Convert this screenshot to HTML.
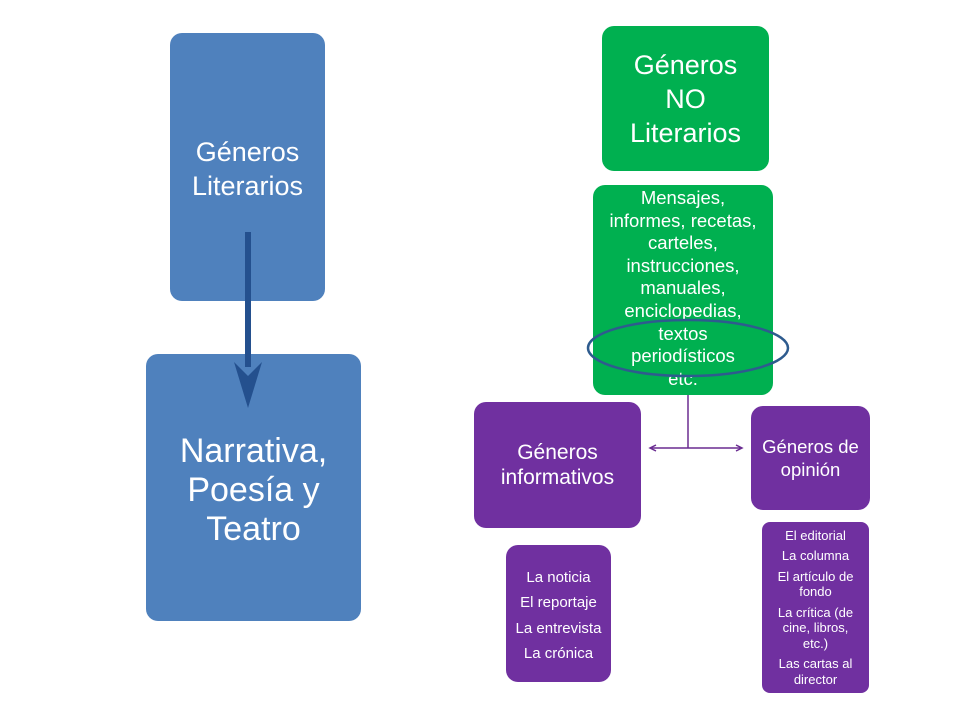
<!DOCTYPE html>
<html><head><meta charset="utf-8"><style>
body{margin:0;width:960px;height:720px;background:#fff;position:relative;overflow:hidden;font-family:"Liberation Sans",sans-serif;color:#fff}
.b{position:absolute;display:flex;flex-direction:column;align-items:center;justify-content:center;text-align:center;border-radius:12px}
.bl{background:#4f81bd}.gr{background:#00b050}.pu{background:#7030a0}
p{margin:0}
</style></head><body>
<div class="b bl" style="left:170px;top:33px;width:155px;height:268px;font-size:27px;line-height:34px;padding-top:4px;box-sizing:border-box">Géneros<br>Literarios</div>
<div class="b bl" style="left:146px;top:354px;width:215px;height:267px;font-size:34px;line-height:39px;padding-top:6px;box-sizing:border-box">Narrativa,<br>Poesía y<br>Teatro</div>
<div class="b gr" style="left:602px;top:26px;width:167px;height:145px;font-size:27px;line-height:34px">Géneros<br>NO<br>Literarios</div>
<div class="b gr" style="left:593px;top:185px;width:180px;height:210px;font-size:18.5px;line-height:22.6px;justify-content:flex-start;padding-top:2px;box-sizing:border-box;white-space:nowrap">Mensajes,<br>informes, recetas,<br>carteles,<br>instrucciones,<br>manuales,<br>enciclopedias,<br>textos<br>periodísticos<br>etc.</div>
<div class="b pu" style="left:474px;top:402px;width:167px;height:126px;font-size:21px;line-height:25px">Géneros<br>informativos</div>
<div class="b pu" style="left:751px;top:406px;width:119px;height:104px;font-size:18.5px;line-height:23px;white-space:nowrap">Géneros de<br>opinión</div>
<div class="b pu" style="left:506px;top:545px;width:105px;height:137px;font-size:15px;line-height:18px;gap:7.5px;padding-top:5px;box-sizing:border-box;white-space:nowrap">
<p>La noticia</p><p>El reportaje</p><p>La entrevista</p><p>La crónica</p></div>
<div class="b pu" style="left:762px;top:522px;width:107px;height:171px;font-size:13px;line-height:15.5px;gap:5px;border-radius:8px;white-space:nowrap">
<p>El editorial</p><p>La columna</p><p>El artículo de<br>fondo</p><p>La crítica (de<br>cine, libros,<br>etc.)</p><p>Las cartas al<br>director</p></div>
<svg width="960" height="720" style="position:absolute;left:0;top:0">
<rect x="245" y="232" width="6" height="135" fill="#24508e"/>
<polygon points="234,362 248,376 262,362 248,408" fill="#24508e"/>
<ellipse cx="688" cy="348" rx="100" ry="28" fill="none" stroke="#2e5b8e" stroke-width="2.5"/>
<g stroke="#6a2c91" stroke-width="1.5" fill="none">
<line x1="688" y1="395" x2="688" y2="448"/>
<line x1="651" y1="448" x2="741" y2="448"/>
<polyline points="656,445 650,448 656,451"/>
<polyline points="736,445 742,448 736,451"/>
</g>
</svg>
</body></html>
